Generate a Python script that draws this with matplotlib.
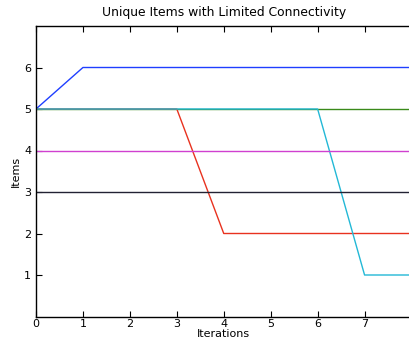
import matplotlib
matplotlib.use("Agg")
import matplotlib.pyplot as plt

iterations = [0, 1, 2, 3, 4, 5, 6, 7, 8]
series = [
    ("b", [5, 6, 6, 6, 6, 6, 6, 6, 6]),
    ("g", [5, 5, 5, 5, 5, 5, 5, 5, 5]),
    ("r", [5, 5, 5, 5, 2, 2, 2, 2, 2]),
    ("c", [5, 5, 5, 5, 5, 5, 5, 1, 1]),
    ("m", [4, 4, 4, 4, 4, 4, 4, 4, 4]),
    ("k", [3, 3, 3, 3, 3, 3, 3, 3, 3]),
]
colors = {"b": "#1f3fff", "g": "#3a8a1a", "r": "#e8321f", "c": "#22b8d6",
          "m": "#d040d0", "k": "#222233"}

fig = plt.figure(figsize=(4.09, 3.41), dpi=100)
# right spine sits just past the figure edge, as in the reference
ax = fig.add_axes([36 / 409, 24.5 / 341, 375.5 / 409, 290.5 / 341])

for key, vals in series:
    ax.plot(iterations, vals, color=colors[key], linewidth=1.0)

ax.set_xlim(0, 8)
ax.set_ylim(0, 7)
ax.set_xticks(iterations)
ax.set_yticks([1, 2, 3, 4, 5, 6])
ax.tick_params(direction="in", top=True, right=False, labelsize=8, length=4)
ax.tick_params(axis="x", pad=2)
for s in ax.spines.values():
    s.set_linewidth(1.0)
ax.set_title("Unique Items with Limited Connectivity", fontsize=8.9, pad=7)
ax.set_xlabel("Iterations", fontsize=8, labelpad=0)
ax.set_ylabel("Items", fontsize=8, labelpad=2)

fig.savefig("out.png", dpi=100)
